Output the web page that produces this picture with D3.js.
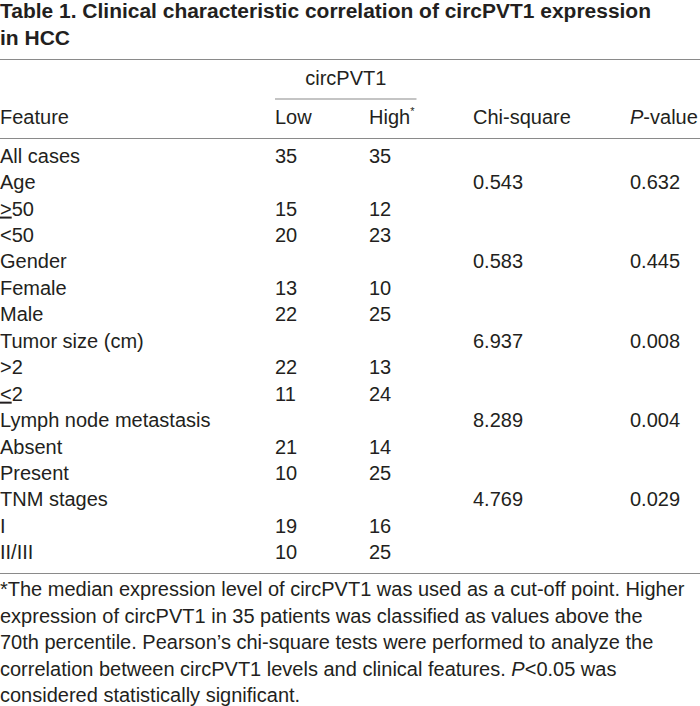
<!DOCTYPE html>
<html>
<head>
<meta charset="utf-8">
<script src="https://cdn.jsdelivr.net/npm/d3@7"></script>
<style>
  html, body { margin: 0; padding: 0; background: #fff; }
  svg { display: block; }
</style>
</head>
<body>
<div id="chart"></div>
<script>
// ---- data ----
const titleLines = ["Table 1. Clinical characteristic correlation of circPVT1 expression", "in HCC"];
const groupLabel = "circPVT1";
const columnHeaders = ["Feature", "Low", "High", "Chi-square", "P-value"];
const features = ["All cases", "Age", "≥50", "<50", "Gender", "Female", "Male",
  "Tumor size (cm)", ">2", "≤2", "Lymph node metastasis", "Absent", "Present",
  "TNM stages", "I", "II/III"];
const lowValues  = [35, null, 15, 20, null, 13, 22, null, 22, 11, null, 21, 10, null, 19, 10];
const highValues = [35, null, 12, 23, null, 10, 25, null, 13, 24, null, 14, 25, null, 16, 25];
const chiSquare  = [null, "0.543", null, null, "0.583", null, null, "6.937", null, null, "8.289", null, null, "4.769", null, null];
const pValues    = [null, "0.632", null, null, "0.445", null, null, "0.008", null, null, "0.004", null, null, "0.029", null, null];
const footnoteLines = [
  "*The median expression level of circPVT1 was used as a cut-off point. Higher",
  "expression of circPVT1 in 35 patients was classified as values above the",
  "70th percentile. Pearson’s chi-square tests were performed to analyze the",
  "correlation between circPVT1 levels and clinical features. P<0.05 was",
  "considered statistically significant."
];

// ---- layout ----
const W = 700, H = 706;
const textColor = "#231f20";
const ruleColor = "#8a8a8a";
const fontBody = "'Liberation Sans', Arial, Helvetica, sans-serif";
const fs = 20;

const svg = d3.select("#chart").append("svg")
  .attr("width", W).attr("height", H)
  .style("font-family", fontBody).style("fill", textColor);

// columns
const colX = d3.scaleOrdinal().domain(columnHeaders).range([0, 275, 369, 473, 630]);
// rows
const rowY = d3.scalePoint().domain(d3.range(features.length)).range([162.7, 559.3]);

// Title
const titleBase = [18, 45];
const titleWidths = [651, 70];
titleLines.forEach((t, i) => {
  svg.append("text")
    .attr("x", 0).attr("y", titleBase[i])
    .attr("font-weight", "bold")
    .attr("font-size", 20)
    .attr("textLength", titleWidths[i])
    .attr("lengthAdjust", "spacingAndGlyphs")
    .text(t);
});

function rule(y, x1, x2) {
  svg.append("line").attr("x1", x1).attr("x2", x2).attr("y1", y).attr("y2", y)
    .attr("stroke", ruleColor).attr("stroke-width", 1.2);
}
rule(59.5, 0, W);
rule(99, colX("Low"), 416.5);
rule(138.5, 0, W);
rule(573.5, 0, W);

// group header
svg.append("text").attr("x", (colX("Low") + 416.5) / 2).attr("y", 85)
  .attr("text-anchor", "middle").attr("font-size", fs).text(groupLabel);

// column headers
const headerY = 124;
columnHeaders.forEach(h => {
  const t = svg.append("text").attr("x", colX(h)).attr("y", headerY).attr("font-size", fs);
  if (h === "High") {
    t.append("tspan").text("High");
    t.append("tspan").attr("font-size", 11).attr("dy", -9).text("*");
  } else if (h === "P-value") {
    t.append("tspan").attr("font-style", "italic").text("P");
    t.append("tspan").text("-value");
  } else {
    t.text(h);
  }
});

// feature labels (≥ / ≤ drawn as underlined > / <)
function writeLabel(sel, label) {
  const m = label.match(/^([≥≤])(.*)$/);
  if (m) {
    sel.append("tspan").attr("text-decoration", "underline").text(m[1] === "≥" ? ">" : "<");
    sel.append("tspan").text(m[2]);
  } else {
    sel.text(label);
  }
}

const rows = svg.append("g").selectAll("g.row")
  .data(features.map((f, i) => ({ f, i, low: lowValues[i], high: highValues[i], chi: chiSquare[i], p: pValues[i] })))
  .join("g").attr("class", "row")
  .attr("transform", d => `translate(0,${rowY(d.i)})`);

rows.append("text").attr("x", colX("Feature")).attr("font-size", fs)
  .each(function (d) { writeLabel(d3.select(this), d.f); });
rows.filter(d => d.low != null).append("text").attr("x", colX("Low")).attr("font-size", fs).text(d => d.low);
rows.filter(d => d.high != null).append("text").attr("x", colX("High")).attr("font-size", fs).text(d => d.high);
rows.filter(d => d.chi != null).append("text").attr("x", colX("Chi-square")).attr("font-size", fs).text(d => d.chi);
rows.filter(d => d.p != null).append("text").attr("x", colX("P-value")).attr("font-size", fs).text(d => d.p);

// footnote
const footY = d3.scalePoint().domain(d3.range(footnoteLines.length)).range([596, 702]);
footnoteLines.forEach((line, i) => {
  const t = svg.append("text").attr("x", 0).attr("y", footY(i)).attr("font-size", fs);
  const idx = line.indexOf("P<0.05");
  if (idx >= 0) {
    t.append("tspan").text(line.slice(0, idx));
    t.append("tspan").attr("font-style", "italic").text("P");
    t.append("tspan").text(line.slice(idx + 1));
  } else {
    t.text(line);
  }
});
</script>
</body>
</html>
